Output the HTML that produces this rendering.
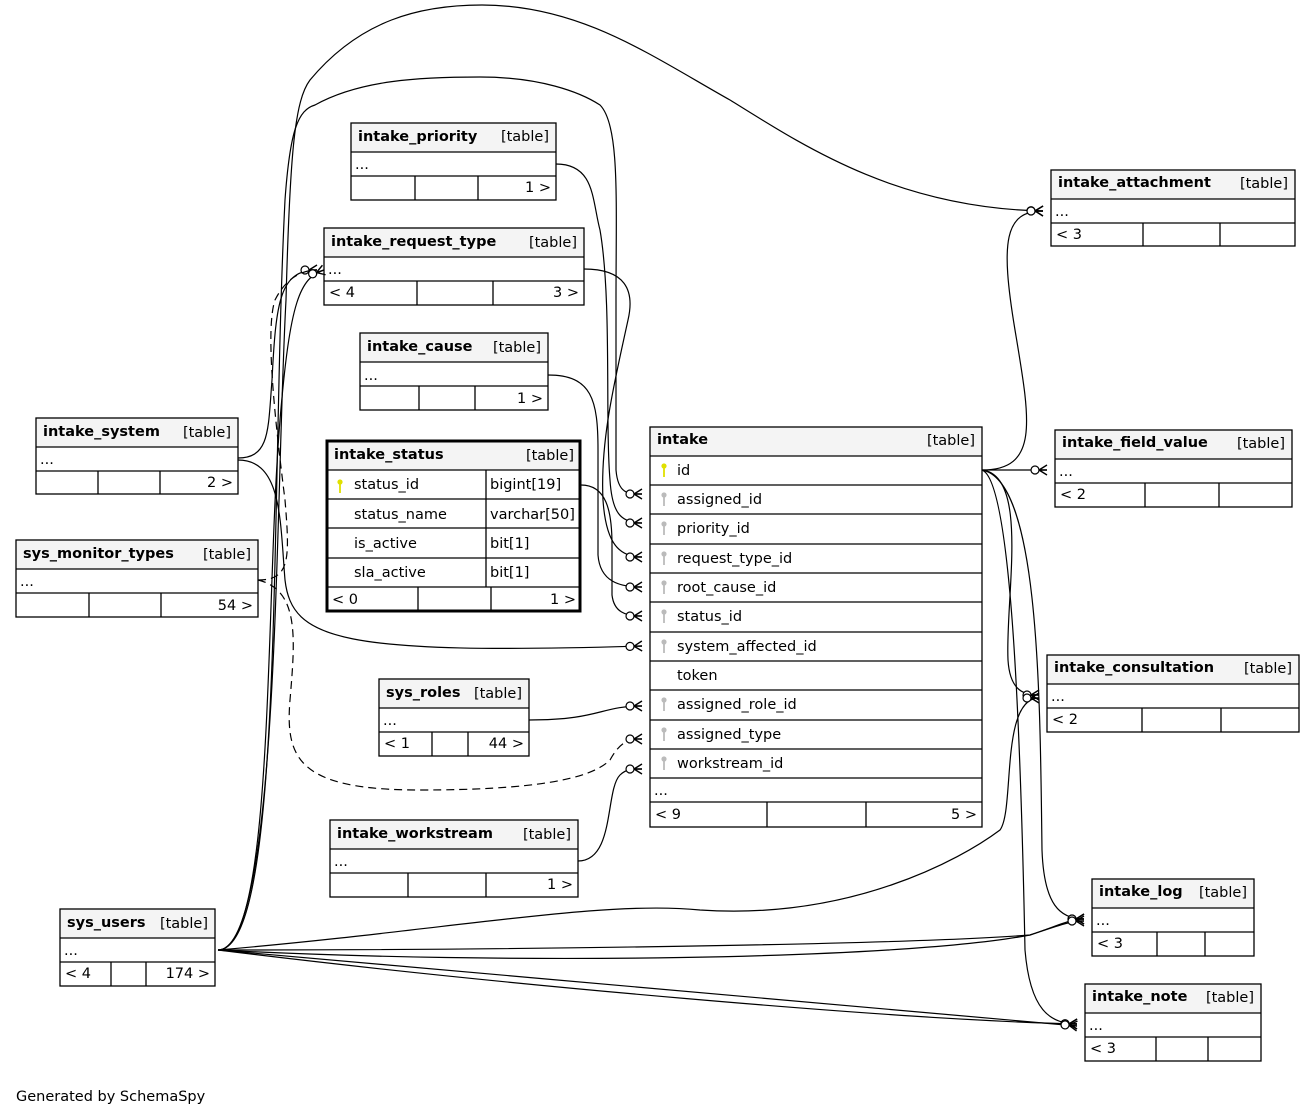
<!DOCTYPE html>
<html><head><meta charset="utf-8"><style>
html,body{margin:0;padding:0;background:#fff;}
svg{display:block;font-family:"DejaVu Sans","Liberation Sans",sans-serif;font-size:14.5px;}
.h{fill:#f4f4f4;}
.b{font-weight:bold;}
.t{fill:none;stroke:#000;stroke-width:1.3;}
.e{fill:none;stroke:#000;stroke-width:1.2;}
.d{fill:none;stroke:#000;stroke-width:1.2;stroke-dasharray:8,5;}
</style></head><body>
<svg width="1316" height="1116" viewBox="0 0 1316 1116" xmlns="http://www.w3.org/2000/svg">
<defs>
<marker id="cf" markerUnits="userSpaceOnUse" markerWidth="30" markerHeight="20" viewBox="-20 -10 30 20" refX="0" refY="0" orient="auto">
<circle cx="-12" cy="0" r="4" fill="#fff" stroke="#000" stroke-width="1.2"/>
<path d="M-8,0 L0,-5 M-8,0 L0,0 M-8,0 L0,5" stroke="#000" stroke-width="1.4" fill="none"/>
</marker>
<g id="pk"><circle cx="0" cy="-4" r="2.6" fill="#e0e000"/><rect x="-0.9" y="-3" width="1.8" height="10" fill="#e0e000"/></g>
<g id="fk"><circle cx="0" cy="-4" r="2.6" fill="#bbb"/><rect x="-0.9" y="-3" width="1.8" height="10" fill="#bbb"/></g>
</defs>

<!-- edges -->
<path class="e" d="M556,164 C595,164 592,200 600,230 C612,300 605,420 610,480 C612,512 620,523 642,523" marker-end="url(#cf)"/>
<path class="e" d="M584,269 C625,269 635,290 628,320 C615,380 600,440 603,500 C606,545 620,557 642,557" marker-end="url(#cf)"/>
<path class="e" d="M548,375 C592,375 598,400 598,450 L598,555 C600,582 620,587 642,587" marker-end="url(#cf)"/>
<path class="e" d="M581,485 C606,485 612,510 612,545 L612,595 C614,612 625,616 642,616" marker-end="url(#cf)"/>
<path class="e" d="M218,950 C285,950 270,500 285,200 C290,130 298,110 315,105 C360,80 420,77 480,77 C540,77 580,92 600,105 C620,125 616,200 616,300 L616,470 C618,494 628,494 642,494" marker-end="url(#cf)"/>
<path class="e" d="M218,950 C280,950 275,500 286,300 C290,150 295,100 310,80 C360,20 420,5 482,5 C580,5 650,55 730,100 C810,150 900,208 1043,211" marker-end="url(#cf)"/>
<path class="e" d="M238,460 C282,460 280,520 285,580 C292,640 340,655 642,646" marker-end="url(#cf)"/>
<path class="e" d="M238,458 C270,458 268,430 272,380 C276,300 280,270 317,270" marker-end="url(#cf)"/>
<path class="e" d="M218,950 C275,950 265,600 280,420 C290,300 300,278 324,270" marker-end="url(#cf)"/>
<path class="d" d="M258,580 C290,580 290,560 285,500 C275,420 265,330 275,300 C285,280 300,270 317,270"/>
<path class="d" d="M258,580 C300,590 295,640 290,700 C285,760 300,790 420,790 C530,790 590,780 610,760 C620,742 628,739 642,739" marker-end="url(#cf)"/>
<path class="e" d="M529,720 C600,720 600,706 642,706" marker-end="url(#cf)"/>
<path class="e" d="M578,861 C615,861 605,790 620,775 C626,769 632,769 642,769" marker-end="url(#cf)"/>
<path class="e" d="M982,470 C1040,470 1030,420 1015,330 C1000,240 1005,211 1043,211" marker-end="url(#cf)"/>
<path class="e" d="M982,470 L1047,470" marker-end="url(#cf)"/>
<path class="e" d="M982,470 C1030,475 1005,600 1008,660 C1010,692 1025,695 1039,695" marker-end="url(#cf)"/>
<path class="e" d="M982,470 C1040,480 1040,700 1042,850 C1044,905 1060,919 1084,919" marker-end="url(#cf)"/>
<path class="e" d="M982,470 C1010,480 1020,700 1025,950 C1030,1010 1050,1024 1077,1024" marker-end="url(#cf)"/>
<path class="e" d="M218,950 C450,930 600,900 700,910 C850,920 960,860 1000,830 C1015,810 1000,698 1039,698" marker-end="url(#cf)"/>
<path class="e" d="M218,950 C500,965 900,960 1030,935 C1060,925 1070,919 1084,919" marker-end="url(#cf)"/>
<path class="e" d="M218,950 C500,950 900,945 1030,935 C1060,925 1070,921 1084,921" marker-end="url(#cf)"/>
<path class="e" d="M218,950 C500,985 900,1020 1077,1024" marker-end="url(#cf)"/>
<path class="e" d="M218,950 C500,975 900,1010 1077,1026" marker-end="url(#cf)"/>

<!-- intake_priority -->
<rect class="h" x="351" y="123" width="205" height="29"/>
<rect class="t" x="351" y="123" width="205" height="77" fill="none"/>
<path class="t" d="M351,152H556M351,176H556M415,176V200M478,176V200"/>
<text class="b" x="358" y="141">intake_priority</text><text x="549" y="141" text-anchor="end">[table]</text>
<text x="355" y="169">...</text><text x="551" y="192" text-anchor="end">1 &gt;</text>

<!-- intake_request_type -->
<rect class="h" x="324" y="228" width="260" height="29"/>
<rect class="t" x="324" y="228" width="260" height="77"/>
<path class="t" d="M324,257H584M324,281H584M417,281V305M493,281V305"/>
<text class="b" x="331" y="246">intake_request_type</text><text x="577" y="247" text-anchor="end">[table]</text>
<text x="328" y="274">...</text><text x="329" y="297">&lt; 4</text><text x="579" y="297" text-anchor="end">3 &gt;</text>

<!-- intake_cause -->
<rect class="h" x="360" y="333" width="188" height="29"/>
<rect class="t" x="360" y="333" width="188" height="77"/>
<path class="t" d="M360,362H548M360,386H548M419,386V410M475,386V410"/>
<text class="b" x="367" y="351">intake_cause</text><text x="541" y="352" text-anchor="end">[table]</text>
<text x="364" y="380">...</text><text x="543" y="403" text-anchor="end">1 &gt;</text>

<!-- intake_status -->
<rect class="h" x="327" y="441" width="253" height="29"/>
<rect x="327" y="441" width="253" height="170" fill="none" stroke="#000" stroke-width="3"/>
<path class="t" d="M327,470H580M327,499H580M327,528H580M327,558H580M327,587H580M486,470V587M418,587V611M491,587V611"/>
<text class="b" x="334" y="459">intake_status</text><text x="574" y="460" text-anchor="end">[table]</text>
<use href="#pk" x="340" y="486"/>
<text x="354" y="489">status_id</text><text x="490" y="489">bigint[19]</text>
<text x="354" y="519">status_name</text><text x="490" y="519">varchar[50]</text>
<text x="354" y="548">is_active</text><text x="490" y="548">bit[1]</text>
<text x="354" y="577">sla_active</text><text x="490" y="577">bit[1]</text>
<text x="332" y="604">&lt; 0</text><text x="576" y="604" text-anchor="end">1 &gt;</text>

<!-- intake_system -->
<rect class="h" x="36" y="418" width="202" height="29"/>
<rect class="t" x="36" y="418" width="202" height="76"/>
<path class="t" d="M36,447H238M36,471H238M98,471V494M160,471V494"/>
<text class="b" x="43" y="436">intake_system</text><text x="231" y="437" text-anchor="end">[table]</text>
<text x="40" y="464">...</text><text x="233" y="487" text-anchor="end">2 &gt;</text>

<!-- sys_monitor_types -->
<rect class="h" x="16" y="540" width="242" height="29"/>
<rect class="t" x="16" y="540" width="242" height="77"/>
<path class="t" d="M16,569H258M16,593H258M89,593V617M161,593V617"/>
<text class="b" x="23" y="558">sys_monitor_types</text><text x="251" y="559" text-anchor="end">[table]</text>
<text x="20" y="586">...</text><text x="253" y="610" text-anchor="end">54 &gt;</text>

<!-- sys_roles -->
<rect class="h" x="379" y="679" width="150" height="29"/>
<rect class="t" x="379" y="679" width="150" height="77"/>
<path class="t" d="M379,708H529M379,732H529M432,732V756M468,732V756"/>
<text class="b" x="386" y="697">sys_roles</text><text x="522" y="698" text-anchor="end">[table]</text>
<text x="383" y="725">...</text><text x="384" y="748">&lt; 1</text><text x="524" y="748" text-anchor="end">44 &gt;</text>

<!-- intake_workstream -->
<rect class="h" x="330" y="820" width="248" height="29"/>
<rect class="t" x="330" y="820" width="248" height="77"/>
<path class="t" d="M330,849H578M330,873H578M408,873V897M486,873V897"/>
<text class="b" x="337" y="838">intake_workstream</text><text x="571" y="839" text-anchor="end">[table]</text>
<text x="334" y="866">...</text><text x="573" y="889" text-anchor="end">1 &gt;</text>

<!-- sys_users -->
<rect class="h" x="60" y="909" width="155" height="29"/>
<rect class="t" x="60" y="909" width="155" height="77"/>
<path class="t" d="M60,938H215M60,962H215M111,962V986M146,962V986"/>
<text class="b" x="67" y="927">sys_users</text><text x="208" y="928" text-anchor="end">[table]</text>
<text x="64" y="955">...</text><text x="65" y="978">&lt; 4</text><text x="210" y="978" text-anchor="end">174 &gt;</text>

<!-- intake -->
<rect class="h" x="650" y="427" width="332" height="29"/>
<rect class="t" x="650" y="427" width="332" height="400"/>
<path class="t" d="M650,456H982M650,485H982M650,514H982M650,544H982M650,573H982M650,602H982M650,632H982M650,661H982M650,690H982M650,720H982M650,749H982M650,778H982M650,802H982M767,802V827M866,802V827"/>
<text class="b" x="657" y="444">intake</text><text x="975" y="445" text-anchor="end">[table]</text>
<use href="#pk" x="664" y="470"/><text x="677" y="475">id</text>
<use href="#fk" x="664" y="499"/><text x="677" y="504">assigned_id</text>
<use href="#fk" x="664" y="528"/><text x="677" y="533">priority_id</text>
<use href="#fk" x="664" y="558"/><text x="677" y="563">request_type_id</text>
<use href="#fk" x="664" y="587"/><text x="677" y="592">root_cause_id</text>
<use href="#fk" x="664" y="616"/><text x="677" y="621">status_id</text>
<use href="#fk" x="664" y="646"/><text x="677" y="651">system_affected_id</text>
<text x="677" y="680">token</text>
<use href="#fk" x="664" y="704"/><text x="677" y="709">assigned_role_id</text>
<use href="#fk" x="664" y="734"/><text x="677" y="739">assigned_type</text>
<use href="#fk" x="664" y="763"/><text x="677" y="768">workstream_id</text>
<text x="654" y="795">...</text><text x="655" y="819">&lt; 9</text><text x="977" y="819" text-anchor="end">5 &gt;</text>

<!-- intake_attachment -->
<rect class="h" x="1051" y="170" width="244" height="29"/>
<rect class="t" x="1051" y="170" width="244" height="76"/>
<path class="t" d="M1051,199H1295M1051,223H1295M1143,223V246M1220,223V246"/>
<text class="b" x="1058" y="187">intake_attachment</text><text x="1288" y="188" text-anchor="end">[table]</text>
<text x="1055" y="216">...</text><text x="1056" y="239">&lt; 3</text>

<!-- intake_field_value -->
<rect class="h" x="1055" y="430" width="237" height="29"/>
<rect class="t" x="1055" y="430" width="237" height="77"/>
<path class="t" d="M1055,459H1292M1055,483H1292M1145,483V507M1219,483V507"/>
<text class="b" x="1062" y="447">intake_field_value</text><text x="1285" y="448" text-anchor="end">[table]</text>
<text x="1059" y="476">...</text><text x="1060" y="499">&lt; 2</text>

<!-- intake_consultation -->
<rect class="h" x="1047" y="655" width="252" height="29"/>
<rect class="t" x="1047" y="655" width="252" height="77"/>
<path class="t" d="M1047,684H1299M1047,708H1299M1142,708V732M1221,708V732"/>
<text class="b" x="1054" y="672">intake_consultation</text><text x="1292" y="673" text-anchor="end">[table]</text>
<text x="1051" y="701">...</text><text x="1052" y="724">&lt; 2</text>

<!-- intake_log -->
<rect class="h" x="1092" y="879" width="162" height="29"/>
<rect class="t" x="1092" y="879" width="162" height="77"/>
<path class="t" d="M1092,908H1254M1092,932H1254M1157,932V956M1205,932V956"/>
<text class="b" x="1099" y="896">intake_log</text><text x="1247" y="897" text-anchor="end">[table]</text>
<text x="1096" y="925">...</text><text x="1097" y="948">&lt; 3</text>

<!-- intake_note -->
<rect class="h" x="1085" y="984" width="176" height="29"/>
<rect class="t" x="1085" y="984" width="176" height="77"/>
<path class="t" d="M1085,1013H1261M1085,1037H1261M1156,1037V1061M1208,1037V1061"/>
<text class="b" x="1092" y="1001">intake_note</text><text x="1254" y="1002" text-anchor="end">[table]</text>
<text x="1089" y="1030">...</text><text x="1090" y="1053">&lt; 3</text>

<text x="16" y="1101">Generated by SchemaSpy</text>
</svg>
</body></html>
